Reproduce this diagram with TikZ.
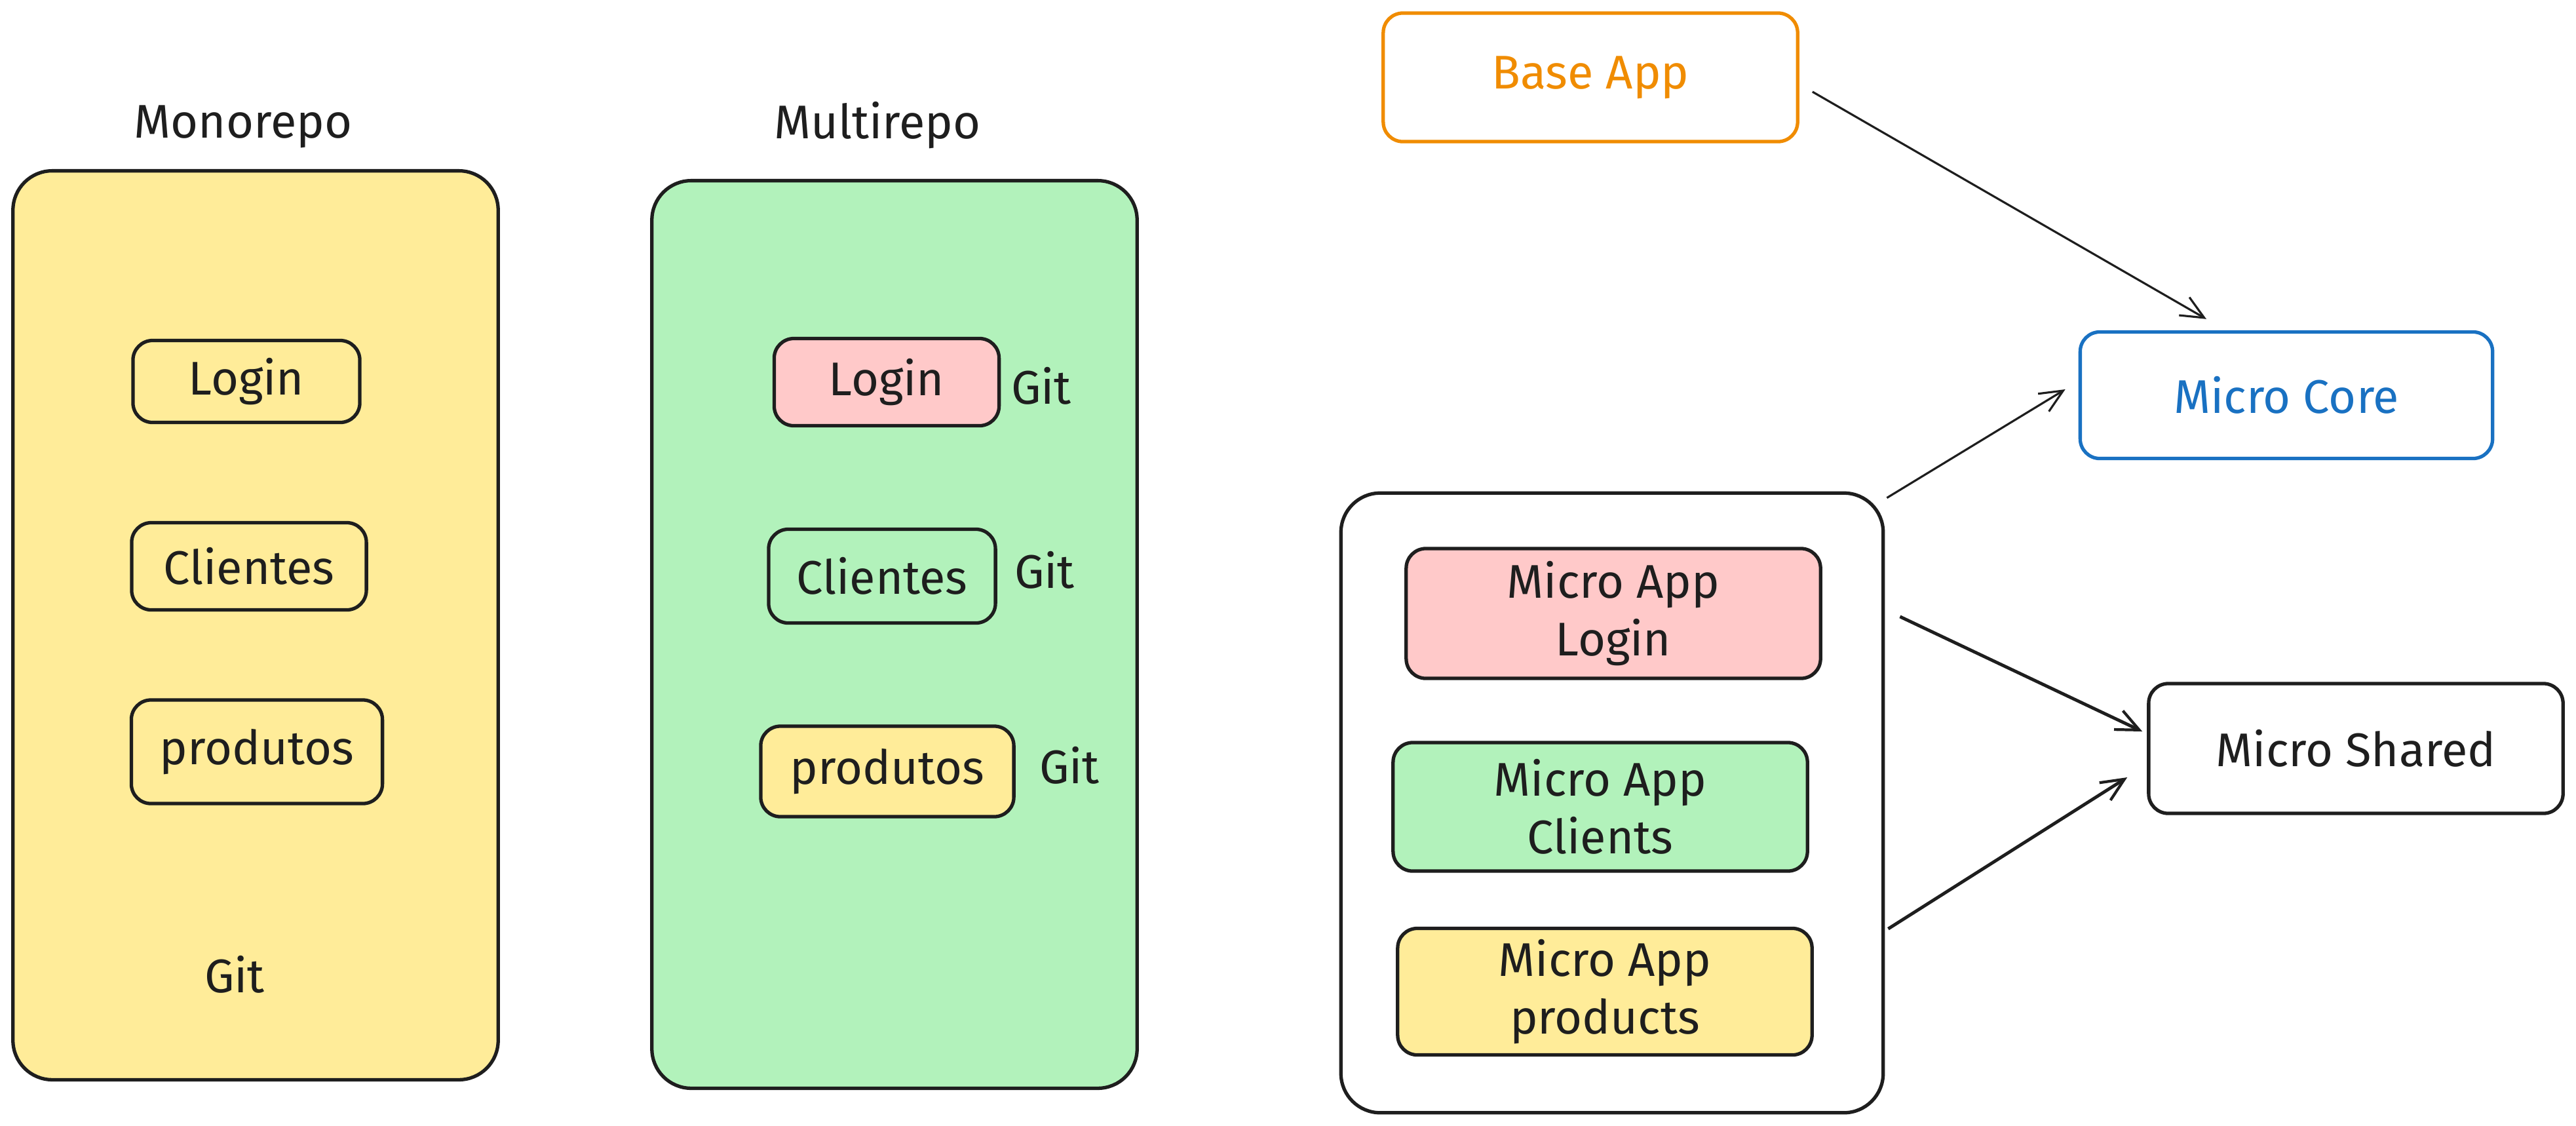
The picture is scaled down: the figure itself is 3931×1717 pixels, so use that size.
\documentclass[tikz,border=0pt]{standalone}
\usepackage{fontspec}
\setmainfont{Fira Sans}
\usetikzlibrary{arrows.meta}
\definecolor{ink}{HTML}{1E1E1E}
\definecolor{yel}{HTML}{FFEC99}
\definecolor{grn}{HTML}{B2F2BB}
\definecolor{pnk}{HTML}{FFC9C9}
\definecolor{org}{HTML}{F08C00}
\definecolor{blu}{HTML}{1971C2}
\tikzset{
  txt/.style={text=ink, font=\fontsize{20.5}{25}\selectfont, inner sep=0pt},
  bigbox/.style={draw=ink, line width=1.5pt, rounded corners=0.6cm, inner sep=0pt},
  smallbox/.style={draw=ink, line width=1.5pt, rounded corners=0.3cm, inner sep=0pt,
     text=ink, font=\fontsize{20.5}{25}\selectfont, align=center},
  conn/.style={draw=ink, line width=0.9pt, -{Straight Barb[length=10pt,width=9pt,line width=0.9pt]}},
  connb/.style={draw=ink, line width=1.4pt, -{Straight Barb[length=10pt,width=9pt,line width=1.2pt]}}
}
\begin{document}
\begin{tikzpicture}[x=0.01cm,y=-0.01cm]
\useasboundingbox (0,0) rectangle (3931,1717);
\fill[white] (0,0) rectangle (3931,1717);

% Monorepo
\node[txt] (montitle) at (371,193) {Monorepo};
\node[bigbox, fill=yel, minimum width=7.40cm, minimum height=13.86cm] (mono) at (390,954) {};
\node[smallbox, fill=yel, minimum width=3.46cm, minimum height=1.25cm] (mlogin) at (376,582) {Login};
\node[smallbox, fill=yel, minimum width=3.58cm, minimum height=1.33cm] (mcli) at (380,864) {Clientes};
\node[smallbox, fill=yel, minimum width=3.83cm, minimum height=1.58cm] (mprod) at (392,1147) {produtos};
\node[txt] (mgit) at (358,1487) {Git};

% Multirepo
\node[txt] (multititle) at (1339,191) {Multirepo};
\node[bigbox, fill=grn, minimum width=7.40cm, minimum height=13.84cm] (multi) at (1365,968) {};
\node[smallbox, fill=pnk, minimum width=3.43cm, minimum height=1.33cm] (rlogin) at (1353,583) {Login};
\node[txt] (git1) at (1589,589) {Git};
\node[smallbox, fill=grn, minimum width=3.46cm, minimum height=1.43cm] (rcli) at (1346,879) {Clientes};
\node[txt] (git2) at (1594,870) {Git};
\node[smallbox, fill=yel, minimum width=3.86cm, minimum height=1.38cm] (rprod) at (1354,1177) {produtos};
\node[txt] (git3) at (1632,1168) {Git};

% Micro frontends
\node[smallbox, draw=org, text=org, fill=white, minimum width=6.32cm, minimum height=1.96cm] (base) at (2427,118) {Base App};
\node[smallbox, draw=blu, text=blu, fill=white, minimum width=6.29cm, minimum height=1.93cm] (core) at (3489,603) {Micro Core};
\node[bigbox, fill=white, minimum width=8.27cm, minimum height=9.45cm] (cont) at (2460,1225) {};
\node[smallbox, fill=pnk, minimum width=6.32cm, minimum height=1.98cm] (alogin) at (2462,936) {Micro App\\Login};
\node[smallbox, fill=grn, minimum width=6.32cm, minimum height=1.96cm] (acli) at (2442,1231) {Micro App\\Clients};
\node[smallbox, fill=yel, minimum width=6.32cm, minimum height=1.93cm] (aprod) at (2449,1513) {Micro App\\products};
\node[smallbox, fill=white, minimum width=6.32cm, minimum height=1.98cm] (shared) at (3595,1142) {Micro Shared};

% Connectors
\draw[conn] ([xshift=0.2cm,yshift=-0.22cm]base.east) -- ([xshift=-1.22cm,yshift=0.17cm]core.north);
\draw[conn] ([xshift=0.03cm,yshift=-0.10cm]cont.north east) -- ([xshift=-0.2cm,yshift=0.09cm]core.west);
\draw[connb] ([xshift=0.23cm,yshift=2.84cm]cont.east) -- ([xshift=-0.07cm,yshift=0.26cm]shared.west);
\draw[connb] ([xshift=0.05cm,yshift=-1.92cm]cont.east) -- ([xshift=-0.3cm,yshift=-0.44cm]shared.west);
\end{tikzpicture}
\end{document}
